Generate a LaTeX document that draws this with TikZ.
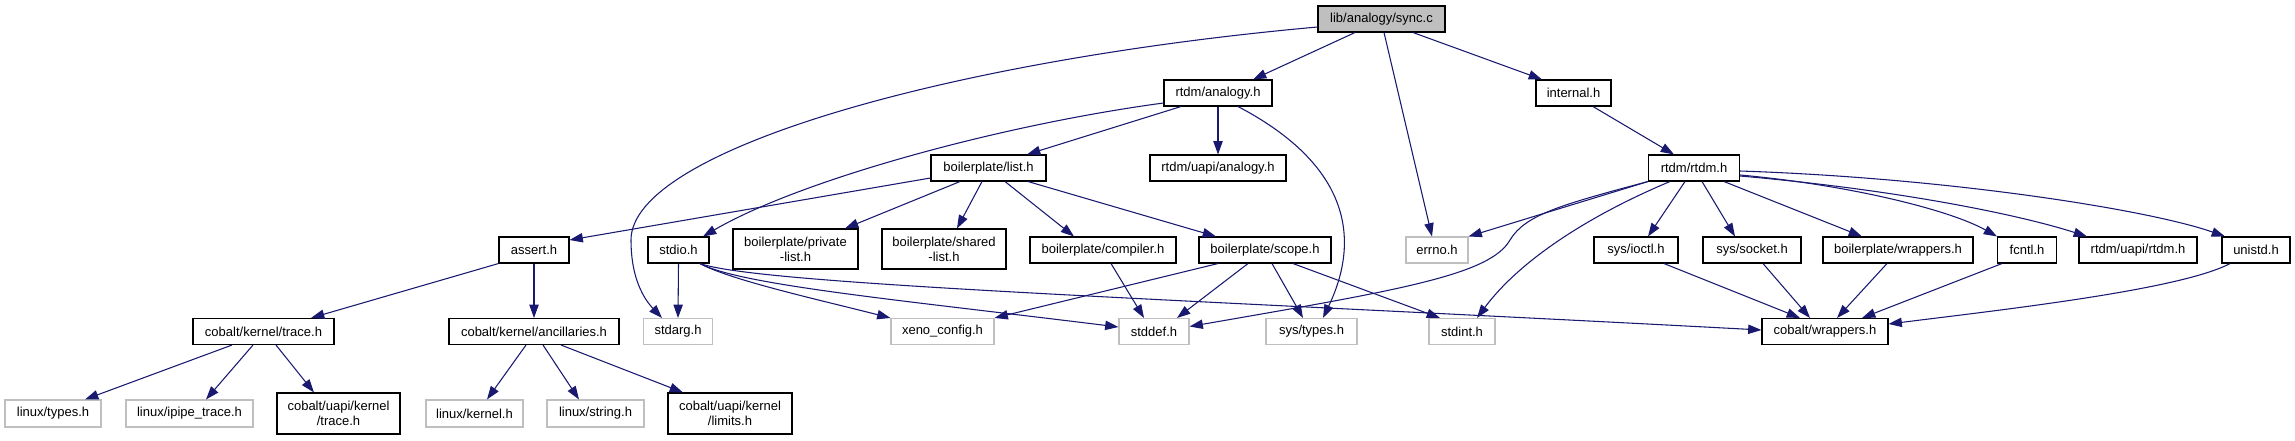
\documentclass[tikz,border=0pt]{standalone}
\usepackage{fontspec}
\setmainfont{Liberation Sans}
\usetikzlibrary{arrows.meta,calc}
\definecolor{edgeblue}{RGB}{25,25,112}
\definecolor{lightgrey}{RGB}{191,191,191}
\begin{document}
\begin{tikzpicture}[x=0.75pt,y=-0.75pt,
  box/.style={draw=black,line width=0.8pt,rectangle,fill=white,inner sep=0pt,minimum height=19.5pt,font=\fontsize{9.75pt}{11.25pt}\selectfont,align=center},
  gbox/.style={box,draw=lightgrey},
  tall/.style={minimum height=30pt},
  e/.style={draw=edgeblue,line width=0.8pt,-{Triangle[length=10pt,width=7pt]}}]
\useasboundingbox (0,0) rectangle (2295,440);

% row 1
\node[box,fill=lightgrey,minimum width=95.25pt] (sync) at (1381.5,19) {lib/analogy/sync.c};
% row 2
\node[box,minimum width=81pt] (ranalogy) at (1218,93) {rtdm/analogy.h};
\node[box,minimum width=56.25pt] (internal) at (1573.5,93) {internal.h};
% row 3
\node[box,minimum width=86.25pt] (bplist) at (988.5,168) {boilerplate/list.h};
\node[box,minimum width=102pt] (uapianalogy) at (1218,168) {rtdm/uapi/analogy.h};
\node[box,minimum width=68.25pt] (rtdm) at (1694,168) {rtdm/rtdm.h};
% row 4
\node[box,minimum width=52.5pt] (assert) at (534,250) {assert.h};
\node[box,minimum width=45.75pt] (stdio) at (678.5,250) {stdio.h};
\node[box,tall,minimum width=93.75pt] (privlist) at (795.5,249) {boilerplate/private\\-list.h};
\node[box,tall,minimum width=93pt] (sharedlist) at (944,249) {boilerplate/shared\\-list.h};
\node[box,minimum width=109.5pt] (compiler) at (1103,250) {boilerplate/compiler.h};
\node[box,minimum width=99pt] (scope) at (1265,250) {boilerplate/scope.h};
\node[gbox,minimum width=46.5pt] (errno) at (1437,250) {errno.h};
\node[box,minimum width=63pt] (ioctl) at (1636,250) {sys/ioctl.h};
\node[box,minimum width=73.5pt] (socket) at (1752,250) {sys/socket.h};
\node[box,minimum width=112.5pt] (bpwrappers) at (1898,250) {boilerplate/wrappers.h};
\node[box,minimum width=44.25pt] (fcntl) at (2027,250) {fcntl.h};
\node[box,minimum width=88.5pt] (uapirtdm) at (2138,250) {rtdm/uapi/rtdm.h};
\node[box,minimum width=51pt] (unistd) at (2256,250) {unistd.h};
% row 5
\node[box,minimum width=105.75pt] (ktrace) at (263.5,331.5) {cobalt/kernel/trace.h};
\node[box,minimum width=127.5pt] (ancill) at (534,331.5) {cobalt/kernel/ancillaries.h};
\node[gbox,minimum width=51.75pt] (stdarg) at (678,331.5) {stdarg.h};
\node[gbox,minimum width=77.25pt] (xeno) at (942.5,331.5) {xeno\_config.h};
\node[gbox,minimum width=52.5pt] (stddef) at (1154,331.5) {stddef.h};
\node[gbox,minimum width=68.25pt] (systypes) at (1311.5,331.5) {sys/types.h};
\node[gbox,minimum width=49.5pt] (stdint) at (1462,331.5) {stdint.h};
\node[box,minimum width=94.5pt] (cwrappers) at (1825,331.5) {cobalt/wrappers.h};
% row 6
\node[gbox,minimum width=72pt,minimum height=20.25pt] (ltypes) at (53,413.5) {linux/types.h};
\node[gbox,minimum width=95.25pt,minimum height=20.25pt] (lipipe) at (189.5,413.5) {linux/ipipe\_trace.h};
\node[box,minimum width=92.25pt,minimum height=30.75pt] (ukTrace) at (338.5,413.5) {cobalt/uapi/kernel\\/trace.h};
\node[gbox,minimum width=72.75pt,minimum height=20.25pt] (lkernel) at (474.5,413.5) {linux/kernel.h};
\node[gbox,minimum width=72.75pt,minimum height=20.25pt] (lstring) at (595.5,413.5) {linux/string.h};
\node[box,minimum width=93pt,minimum height=30.75pt] (ukLimits) at (730,413.5) {cobalt/uapi/kernel\\/limits.h};

% edges from sync.c
\draw[e] ($(sync.south)+(-26.5,0)$) -- ($(ranalogy.north)+(35,0)$);
\draw[e] ($(sync.south)+(31.5,0)$) -- ($(internal.north)+(-31.5,0)$);
\draw[e] ($(sync.south)+(2.5,0)$) -- ($(errno.north)+(-5,0)$);
\draw[e] ($(sync.west)+(0,8)$) .. controls (950,60) and (631,150) .. (631,240) .. controls (631,280) and (645,300) .. ($(stdarg.north)+(-16,0)$);
% rtdm/analogy.h
\draw[e] ($(ranalogy.south)+(-37,0)$) -- ($(bplist.north)+(38.5,0)$);
\draw[e] (ranalogy.south) -- (uapianalogy.north);
\draw[e] ($(ranalogy.west)+(0,10)$) .. controls (1000,125) and (800,180) .. ($(stdio.north)+(24.5,0)$);
\draw[e] ($(ranalogy.south)+(20,0)$) .. controls (1340,160) and (1365,230) .. ($(systypes.north)+(11.5,0)$);
% boilerplate/list.h
\draw[e] ($(bplist.west)+(0,10)$) -- ($(assert.east)+(0,-10)$);
\draw[e] ($(bplist.south)+(-28.5,0)$) -- ($(privlist.north)+(49.5,0)$);
\draw[e] ($(bplist.south)+(-6.5,0)$) -- ($(sharedlist.north)+(13,0)$);
\draw[e] ($(bplist.south)+(16.5,0)$) -- ($(compiler.north)+(-29,0)$);
\draw[e] ($(bplist.south)+(39.5,0)$) -- ($(scope.north)+(-49,0)$);
% internal.h
\draw[e] ($(internal.south)+(19.5,0)$) -- ($(rtdm.north)+(-20,0)$);
% rtdm/rtdm.h
\draw[e] (rtdm.south west) -- (errno.north east);
\draw[e] (rtdm.south west) .. controls (1560,205) and (1525,215) .. (1510,240) .. controls (1490,275) and (1400,290) .. ($(stddef.east)+(0,-5)$);
\draw[e] ($(rtdm.south)+(-24,0)$) .. controls (1590,215) and (1520,260) .. ($(stdint.north)+(15,0)$);
\draw[e] ($(rtdm.south)+(-9,0)$) -- ($(ioctl.north)+(12,0)$);
\draw[e] ($(rtdm.south)+(8,0)$) -- ($(socket.north)+(-17,0)$);
\draw[e] ($(rtdm.south)+(30,0)$) -- ($(bpwrappers.north)+(-36,0)$);
\draw[e] ($(rtdm.east)+(0,7)$) .. controls (1850,185) and (1950,210) .. ($(fcntl.north)+(-30,0)$);
\draw[e] ($(rtdm.east)+(0,8)$) .. controls (1900,190) and (2020,215) .. ($(uapirtdm.north)+(-51,0)$);
\draw[e] ($(rtdm.east)+(0,3)$) .. controls (1950,178) and (2150,210) .. ($(unistd.north)+(-31,0)$);
% stdio.h
\draw[e] (stdio.south) -- (stdarg.north);
\draw[e] ($(stdio.south)+(21.5,0)$) .. controls (730,280) and (820,300) .. (xeno.north west);
\draw[e] ($(stdio.south)+(21.5,0)$) .. controls (740,285) and (900,300) .. ($(stddef.west)+(0,-4.5)$);
\draw[e] ($(stdio.south)+(21.5,0)$) .. controls (760,285) and (1200,300) .. ($(cwrappers.west)+(0,-1.5)$);
% assert.h
\draw[e] (assert.south west) -- ($(ktrace.north)+(47.5,0)$);
\draw[e] (assert.south) -- (ancill.north);
% compiler / scope
\draw[e] ($(compiler.south)+(8,0)$) -- ($(stddef.north)+(-10,0)$);
\draw[e] ($(scope.south)+(-47,0)$) -- (xeno.north east);
\draw[e] ($(scope.south)+(-17,0)$) -- ($(stddef.north)+(23,0)$);
\draw[e] ($(scope.south)+(7,0)$) -- ($(systypes.north)+(-8.5,0)$);
\draw[e] ($(scope.south)+(28,0)$) -- ($(stdint.north)+(-22,0)$);
% to cobalt/wrappers.h
\draw[e] ($(ioctl.south)+(28,0)$) -- ($(cwrappers.north)+(-25,0)$);
\draw[e] ($(socket.south)+(11,0)$) -- ($(cwrappers.north)+(-15,0)$);
\draw[e] ($(bpwrappers.south)+(-11,0)$) -- ($(cwrappers.north)+(12,0)$);
\draw[e] ($(fcntl.south)+(-25,0)$) -- ($(cwrappers.north)+(37,0)$);
\draw[e] ($(unistd.south)+(-26,0)$) .. controls (2180,290) and (2000,310) .. ($(cwrappers.east)+(0,-7.5)$);
% trace / ancillaries
\draw[e] ($(ktrace.south)+(-31.5,0)$) -- ($(ltypes.north)+(32,0)$);
\draw[e] ($(ktrace.south)+(-10.5,0)$) -- ($(lipipe.north)+(16.5,0)$);
\draw[e] ($(ktrace.south)+(12.5,0)$) -- ($(ukTrace.north)+(-24.5,0)$);
\draw[e] ($(ancill.south)+(-8,0)$) -- ($(lkernel.north)+(12.5,0)$);
\draw[e] ($(ancill.south)+(9,0)$) -- ($(lstring.north)+(-16.5,0)$);
\draw[e] ($(ancill.south)+(27,0)$) -- ($(ukLimits.north)+(-47,0)$);
\end{tikzpicture}
\end{document}
